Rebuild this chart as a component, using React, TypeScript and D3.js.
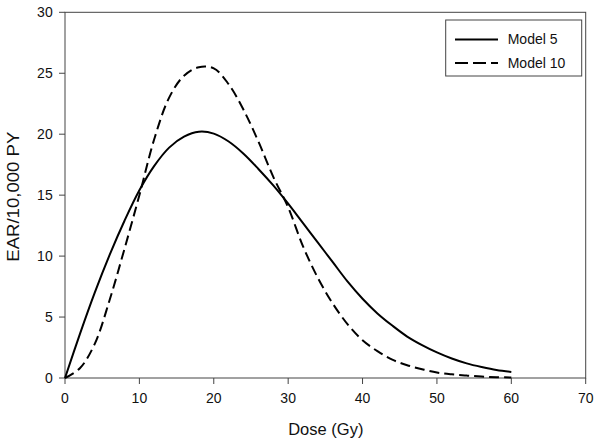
import React from "react";
import * as d3 from "d3";

const doses = [0, 2, 4, 6, 8, 10, 12, 14, 16, 18, 20, 22, 24, 26, 28, 30, 32, 34, 36, 38, 40, 42, 44, 46, 48, 50, 52, 54, 56, 58, 60];
const model5 = [0, 3.6, 7.0, 10.1, 12.9, 15.4, 17.4, 18.9, 19.8, 20.2, 20.05, 19.4, 18.4, 17.15, 15.8, 14.3, 12.7, 11.1, 9.5, 7.9, 6.5, 5.3, 4.3, 3.4, 2.7, 2.1, 1.6, 1.2, 0.9, 0.65, 0.5];
const model10 = [0, 0.8, 2.8, 6.4, 10.6, 15.0, 19.6, 23.0, 24.8, 25.5, 25.4, 24.1, 22.0, 19.4, 16.5, 14.0, 10.8, 8.2, 6.1, 4.4, 3.1, 2.2, 1.5, 1.05, 0.72, 0.45, 0.3, 0.2, 0.12, 0.07, 0.04];
const xTicks = [0, 10, 20, 30, 40, 50, 60, 70];
const yTicks = [0, 5, 10, 15, 20, 25, 30];
const seriesNames = ["Model 5", "Model 10"];

export default function App() {
  const W = 601, H = 446;
  const left = 65, right = 585.7, top = 12.3, bottom = 378;
  const x = d3.scaleLinear().domain([0, 70]).range([left, right]);
  const y = d3.scaleLinear().domain([0, 30]).range([bottom, top]);
  const line = d3.line<number>().x((_, i) => x(doses[i])).y((d) => y(d)).curve(d3.curveCatmullRom.alpha(0.5));
  const font = "Liberation Sans, Arial, sans-serif";
  const axisColor = "#444";
  return (
    <svg width={W} height={H} style={{ position: "absolute", left: 0, top: 0, background: "#fff" }} fontFamily={font}>
      <rect x={left} y={top} width={right - left} height={bottom - top} fill="none" stroke={axisColor} strokeWidth={1} />
      {yTicks.map((t) => (
        <g key={"y" + t}>
          <line x1={left - 6} x2={left} y1={y(t)} y2={y(t)} stroke={axisColor} />
          <text x={52.7} y={y(t)} dy="0.35em" textAnchor="end" fontSize={14} fill="#111">{t}</text>
        </g>
      ))}
      {xTicks.map((t) => (
        <g key={"x" + t}>
          <line x1={x(t)} x2={x(t)} y1={bottom} y2={bottom + 6} stroke={axisColor} />
          <text x={x(t)} y={403} textAnchor="middle" fontSize={14} fill="#111">{t}</text>
        </g>
      ))}
      <text x={325.8} y={435} textAnchor="middle" fontSize={16.5} fill="#111">Dose (Gy)</text>
      <text transform={`translate(18.5,196.7) rotate(-90)`} textAnchor="middle" fontSize={16} textLength={130} lengthAdjust="spacingAndGlyphs" fill="#111">EAR/10,000 PY</text>
      <path d={line(model5) || ""} fill="none" stroke="#000" strokeWidth={2} />
      <path d={line(model10) || ""} fill="none" stroke="#000" strokeWidth={2} strokeDasharray="10,5" />
      <rect x={445.7} y={20} width={136} height={56} fill="#fff" stroke={axisColor} />
      <line x1={455} x2={498} y1={39.5} y2={39.5} stroke="#000" strokeWidth={2} />
      <line x1={455} x2={498} y1={63} y2={63} stroke="#000" strokeWidth={2} strokeDasharray="13,5" />
      <text x={507.7} y={44.3} fontSize={14} fill="#111">{seriesNames[0]}</text>
      <text x={507.7} y={68.3} fontSize={14} fill="#111">{seriesNames[1]}</text>
    </svg>
  );
}
